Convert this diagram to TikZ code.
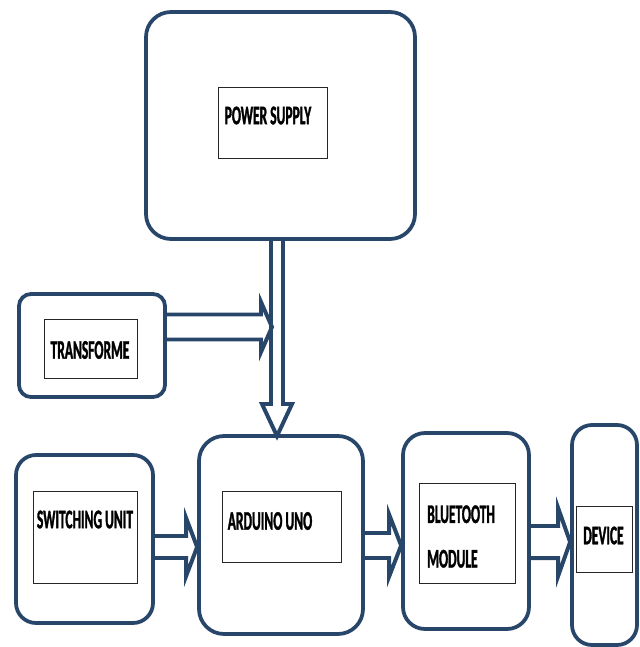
\documentclass[tikz,border=0pt]{standalone}
\usepackage{fontspec}
\newfontfamily\lblfont[FakeStretch=0.5, FakeBold=1.2]{Carlito}
\usetikzlibrary{calc}
\definecolor{navy}{RGB}{40,70,105}
\def\pxlen{0.8536pt}

\tikzset{
  % rounded block: corner radius, width, height (px)
  outer/.style n args={3}{draw=navy, line width=3.2pt, rounded corners=#1*0.03cm,
    minimum width=#2*0.03cm, minimum height=#3*0.03cm},
  inner/.style 2 args={draw=black!85, line width=0.8pt, minimum width=#1*0.03cm, minimum height=#2*0.03cm, inner sep=0pt},
  lbl/.style={font={\lblfont\bfseries\fontsize{23}{38}\selectfont}, inner sep=0pt},
  % hollow block arrow: half gap, half head width, head length (all in px)
  fat/.style n args={3}{draw=navy, line width=3.4pt,
    to path={
      let \p1=(\tikztostart), \p2=(\tikztotarget),
          \n1={atan2(\y2-\y1,\x2-\x1)}, \n2={veclen(\x2-\x1,\y2-\y1)} in
      [shift={(\p1)}, rotate=\n1]
      (0pt,{#1*\pxlen}) -- ({\n2-#3*\pxlen},{#1*\pxlen}) -- ({\n2-#3*\pxlen},{#2*\pxlen})
      -- ({\n2*1pt},0pt) -- ({\n2-#3*\pxlen},{-#2*\pxlen}) -- ({\n2-#3*\pxlen},{-#1*\pxlen})
      -- (0pt,{-#1*\pxlen})
    }
  }
}

\begin{document}
\begin{tikzpicture}[x=0.03cm, y=-0.03cm]
\useasboundingbox (0,0) rectangle (639,647);
% outer blocks
\node[outer={25}{269}{227}] (ps) at (280.5,125.5) {};
\node[outer={12}{146}{103}] (tr) at (92,345.5) {};
\node[outer={20}{137}{168}] (sw) at (84.5,539) {};
\node[outer={25}{164}{198}] (ard) at (281,535) {};
\node[outer={22}{126}{196}] (bt) at (466,531) {};
\node[outer={20}{65}{220}] (dev) at (604.5,535) {};
% inner boxes
\node[inner={109}{71}] (ps-in) at (272.5,122.5) {};
\node[inner={93}{59}] (tr-in) at (90.5,348.5) {};
\node[inner={104}{92}] (sw-in) at (85,537) {};
\node[inner={119}{71}] (ard-in) at (281.5,526.5) {};
\node[inner={96}{100}] (bt-in) at (467,533) {};
\node[inner={56}{66}] (dev-in) at (604,539) {};
% labels
\node[lbl] (ps-t) at (268,115.5) {POWER SUPPLY};
\node[lbl] (tr-t) at (90,350) {TRANSFORME};
\node[lbl] (sw-t) at (85,519.5) {SWITCHING UNIT};
\node[lbl] (ard-t) at (270,521) {ARDUINO UNO};
\node[lbl, align=left, anchor=west] (bt-t) at (427,536.5) {BLUETOOTH\\MODULE};
\node[lbl] (dev-t) at (603.5,535.5) {DEVICE};
% arrows
\coordinate (tin) at (272,327);
\coordinate (ard-top) at (277,436);
\draw[fat={12.5}{25}{11}] (tr.east |- tin) to (tin);
\draw[fat={6}{15}{32}] (ps.south -| ard-top) to (ard-top);
\draw[fat={11}{29}{11}] (sw.east |- 0,547) to (ard.west |- 0,547);
\draw[fat={12.5}{31}{12}] (ard.east |- 0,545.5) to (bt.west |- 0,545.5);
\draw[fat={16}{34}{12}] (bt.east |- 0,542) to (dev.west |- 0,542);
\end{tikzpicture}
\end{document}
